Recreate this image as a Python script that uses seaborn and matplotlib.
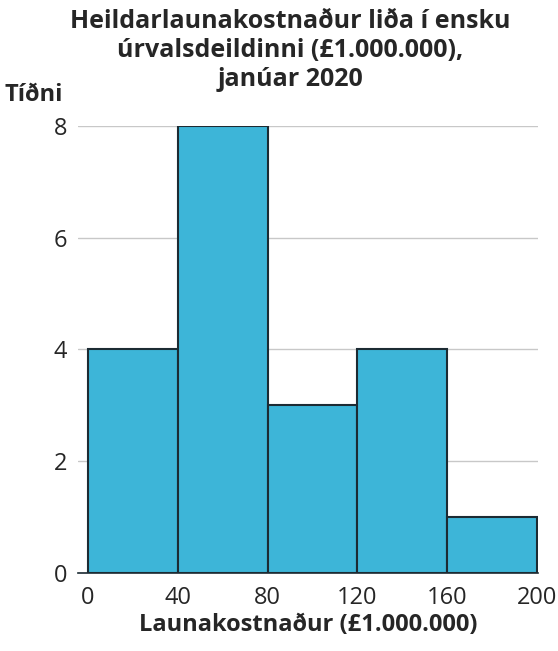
import matplotlib
matplotlib.use("Agg")
import matplotlib.pyplot as plt
import seaborn as sns
import numpy as np

bin_edges = [0, 40, 80, 120, 160, 200]
counts = [4, 8, 3, 4, 1]
x_ticks = [0, 40, 80, 120, 160, 200]
y_ticks = [0, 2, 4, 6, 8]

sns.set_style("white")
plt.rcParams['font.family'] = ['Open Sans', 'DejaVu Sans']

fig = plt.figure(figsize=(5.58, 6.51), dpi=100)
ax = fig.add_axes([0.14, 0.12, 0.824, 0.6865])
centers = [(a + b) / 2 for a, b in zip(bin_edges[:-1], bin_edges[1:])]
sns.histplot(x=centers, weights=counts, bins=bin_edges, ax=ax,
             color="#3db5d8", edgecolor="#1c2b33", linewidth=1.5, alpha=1)
ax.set_xlim(-4.4, 200.5)
ax.set_ylim(0, 8)
ax.set_xticks(x_ticks)
ax.set_yticks(y_ticks)
ax.yaxis.grid(True, color="#c8c8c8", linewidth=1)
ax.set_axisbelow(True)
for s in ["top", "right", "left"]:
    ax.spines[s].set_visible(False)
ax.spines["bottom"].set_color("#1c2b33")
ax.spines["bottom"].set_linewidth(1.2)
ax.tick_params(axis="x", length=6, width=1.2, color="#1c2b33", labelsize=17)
ax.tick_params(axis="y", length=0, labelsize=17, pad=8)
ax.set_ylabel("")
ax.set_xlabel("Launakostnaður (£1.000.000)", fontsize=17, fontweight="bold", labelpad=2)
fig.text(0.52, 0.922, "Heildarlaunakostnaður liða í ensku\núrvalsdeildinni (£1.000.000),\njanúar 2020",
         ha="center", va="center", fontsize=18, fontweight="bold", linespacing=1.2)
fig.text(0.008, 0.854, "Tíðni", fontsize=17, fontweight="bold", ha="left", va="center")
fig.savefig("out.png", dpi=100)
